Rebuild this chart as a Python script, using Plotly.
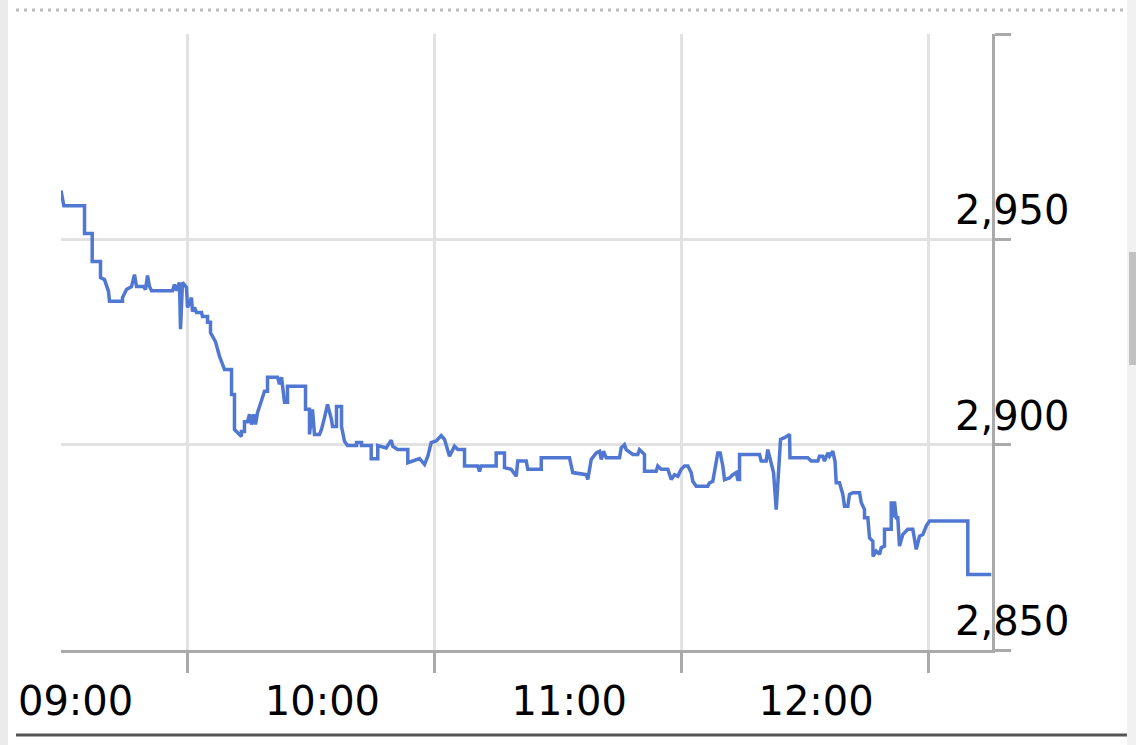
import plotly.graph_objects as go

# ---- data ----
times = [
    "08:59:08", "08:59:49", "09:04:51", "09:04:51", "09:06:43", "09:06:43", "09:08:44", "09:08:44",
    "09:09:42", "09:10:41", "09:10:55", "09:14:05", "09:14:05", "09:15:03", "09:16:16", "09:17:00",
    "09:17:29", "09:19:11", "09:19:40", "09:20:10", "09:20:39", "09:21:08", "09:26:14", "09:26:43",
    "09:27:12", "09:27:56", "09:28:11", "09:28:40", "09:29:38", "09:29:53", "09:30:51", "09:31:06",
    "09:31:35", "09:32:04", "09:33:17", "09:33:32", "09:34:45", "09:34:45", "09:35:28", "09:35:28",
    "09:36:41", "09:37:40", "09:38:53", "09:40:35", "09:40:35", "09:41:18", "09:41:18", "09:43:00",
    "09:43:00", "09:43:44", "09:43:44", "09:44:28", "09:44:57", "09:45:26", "09:45:56", "09:46:25",
    "09:46:54", "09:48:36", "09:49:20", "09:49:20", "09:51:46", "09:52:15", "09:52:44", "09:53:28",
    "09:54:11", "09:54:11", "09:58:34", "09:58:34", "09:59:32", "09:59:32", "10:00:16", "10:00:45",
    "10:01:58", "10:02:27", "10:03:11", "10:03:55", "10:04:53", "10:05:08", "10:06:06", "10:06:06",
    "10:07:19", "10:07:19", "10:08:03", "10:08:46", "10:10:58", "10:10:58", "10:12:11", "10:12:11",
    "10:14:32", "10:14:32", "10:16:08", "10:16:08", "10:18:11", "10:19:24", "10:19:47", "10:21:00",
    "10:23:26", "10:23:26", "10:26:17", "10:27:30", "10:28:18", "10:29:07", "10:30:20", "10:31:33",
    "10:32:21", "10:33:34", "10:34:47", "10:35:35", "10:37:13", "10:37:13", "10:40:27", "10:40:52",
    "10:41:16", "10:44:55", "10:44:55", "10:46:56", "10:46:56", "10:48:34", "10:49:47", "10:50:10",
    "10:52:13", "10:52:36", "10:55:52", "10:55:52", "11:02:44", "11:03:32", "11:06:48", "11:07:11",
    "11:08:01", "11:09:14", "11:10:02", "11:10:27", "11:11:00", "11:11:40", "11:14:54", "11:15:18",
    "11:16:06", "11:16:31", "11:18:08", "11:19:20", "11:19:45", "11:20:58", "11:20:58", "11:23:49",
    "11:24:12", "11:25:02", "11:26:38", "11:27:28", "11:28:16", "11:29:04", "11:29:53", "11:30:42",
    "11:31:30", "11:32:19", "11:32:43", "11:33:32", "11:36:21", "11:36:46", "11:37:34", "11:38:24",
    "11:38:47", "11:39:22", "11:40:00", "11:40:25", "11:41:38", "11:42:26", "11:43:16", "11:43:39",
    "11:44:04", "11:44:04", "11:48:55", "11:49:20", "11:50:33", "11:50:56", "11:51:46", "11:52:20",
    "11:52:59", "11:53:22", "11:53:47", "11:54:02", "11:55:00", "11:56:13", "11:56:20", "12:00:40",
    "12:01:29", "12:03:06", "12:03:30", "12:04:19", "12:04:43", "12:05:32", "12:05:56", "12:06:44",
    "12:07:17", "12:07:34", "12:08:22", "12:09:10", "12:09:35", "12:10:23", "12:10:48", "12:11:36",
    "12:13:14", "12:13:39", "12:14:27", "12:14:27", "12:15:15", "12:15:40", "12:16:28", "12:16:31",
    "12:17:17", "12:18:06", "12:18:30", "12:19:18", "12:19:18", "12:20:56", "12:20:56", "12:21:20",
    "12:21:44", "12:22:09", "12:22:32", "12:22:57", "12:23:45", "12:24:58", "12:26:11", "12:27:01",
    "12:27:49", "12:28:37", "12:29:27", "12:30:15", "12:39:33", "12:39:33", "12:45:15",
]
prices = [
    2961.9, 2958.2, 2958.2, 2951.4, 2951.4, 2944.6, 2944.6, 2940.7,
    2940.2, 2937.3, 2934.9, 2934.9, 2935.8, 2937.8, 2938.5, 2941.4,
    2938.5, 2938.5, 2937.8, 2941.2, 2938.5, 2937.5, 2937.5, 2939.0,
    2937.5, 2939.5, 2928.1, 2939.5, 2938.3, 2933.4, 2935.8, 2932.4,
    2933.4, 2932.2, 2932.2, 2931.2, 2931.2, 2929.8, 2929.8, 2927.3,
    2925.1, 2921.5, 2918.3, 2918.3, 2912.2, 2912.2, 2903.7, 2902.0,
    2903.2, 2903.2, 2905.6, 2905.6, 2907.4, 2904.9, 2907.4, 2904.9,
    2907.8, 2913.0, 2913.0, 2916.4, 2916.4, 2914.7, 2916.4, 2910.3,
    2910.3, 2914.2, 2914.2, 2908.6, 2908.6, 2902.5, 2908.6, 2902.5,
    2902.5, 2903.7, 2906.6, 2909.8, 2906.1, 2904.4, 2904.4, 2909.3,
    2909.3, 2904.4, 2900.8, 2899.8, 2899.8, 2900.5, 2900.5, 2899.8,
    2899.8, 2896.6, 2896.6, 2899.8, 2899.2, 2901.1, 2899.6, 2898.8,
    2898.8, 2895.6, 2896.6, 2895.2, 2897.2, 2900.5, 2900.9, 2902.2,
    2901.3, 2897.2, 2899.6, 2898.8, 2898.8, 2894.8, 2894.8, 2893.5,
    2894.8, 2894.8, 2898.0, 2898.0, 2894.4, 2894.0, 2892.3, 2896.0,
    2896.0, 2894.0, 2894.0, 2896.8, 2896.8, 2893.2, 2892.7, 2891.5,
    2896.4, 2898.0, 2898.4, 2896.4, 2898.4, 2896.8, 2896.8, 2899.2,
    2900.0, 2898.8, 2897.6, 2897.6, 2898.8, 2897.6, 2893.5, 2893.5,
    2894.8, 2894.0, 2894.0, 2891.5, 2892.7, 2892.3, 2894.0, 2894.8,
    2894.8, 2893.2, 2891.1, 2889.9, 2889.9, 2890.7, 2891.1, 2895.6,
    2898.0, 2898.0, 2894.8, 2891.5, 2891.9, 2892.7, 2893.2, 2891.5,
    2891.5, 2897.6, 2897.6, 2896.0, 2896.0, 2898.8, 2895.6, 2893.2,
    2884.2, 2890.7, 2896.4, 2901.3, 2901.7, 2902.5, 2896.8, 2896.8,
    2896.0, 2896.0, 2897.2, 2897.2, 2896.0, 2898.0, 2897.2, 2898.4,
    2895.9, 2890.7, 2890.7, 2887.9, 2885.0, 2885.0, 2887.9, 2888.3,
    2888.3, 2885.9, 2884.2, 2882.2, 2882.2, 2877.3, 2876.5, 2872.8,
    2874.1, 2873.3, 2874.9, 2875.3, 2879.4, 2879.4, 2886.2, 2882.3,
    2886.2, 2882.2, 2882.2, 2875.3, 2878.1, 2879.4, 2879.4, 2874.5,
    2877.7, 2878.1, 2880.2, 2881.4, 2881.4, 2868.4, 2868.4,
]

day = "2024-01-05 "
hour_ticks = ["09:00", "10:00", "11:00", "12:00"]
hour_labels = ["09:00", "10:00", "11:00", "12:00"]
half_hour_grid = ["09:30", "10:30", "11:30", "12:30"]
x_range = ["08:59:08", "12:45:26"]
price_ticks = [2850, 2900, 2950, 3000]
price_labels = ["2,850", "2,900", "2,950", ""]
y_range = [2850, 3000]

FONT = "Verdana, DejaVu Sans, sans-serif"
GRID = "#e2e2e2"
AXIS = "#aaaaaa"
LINE = "#5078d2"

fig = go.Figure()
fig.add_trace(go.Scatter(
    x=[day + t for t in times], y=prices, mode="lines",
    line=dict(color=LINE, width=3.5), hoverinfo="skip", showlegend=False,
))

fig.update_layout(
    width=1136, height=745,
    margin=dict(l=61, r=144, t=34, b=95, autoexpand=False),
    paper_bgcolor="white", plot_bgcolor="white",
    font=dict(family=FONT, size=40, color="#000000"),
    showlegend=False,
    xaxis=dict(
        type="date",
        range=[day + x_range[0], day + x_range[1]],
        tickmode="array",
        tickvals=[day + t for t in hour_ticks],
        ticktext=hour_labels,
        ticks="",
        showgrid=False,
        zeroline=False,
        showline=True, linecolor=AXIS, linewidth=3,
        ticklabelshift=11,
        ticklabelstandoff=14,
        automargin=False,
        tickfont=dict(family=FONT, size=40, color="#000000"),
        minor=dict(
            tickmode="array",
            tickvals=[day + t for t in half_hour_grid],
            ticks="outside", ticklen=20, tickwidth=3, tickcolor=AXIS,
            showgrid=True, gridcolor=GRID, gridwidth=3,
        ),
        fixedrange=True,
    ),
    yaxis=dict(
        side="right",
        range=y_range,
        tickmode="array",
        tickvals=price_ticks,
        ticktext=price_labels,
        ticks="outside", ticklen=16, tickwidth=3, tickcolor=AXIS,
        showgrid=True, gridcolor=GRID, gridwidth=3,
        zeroline=False,
        showline=True, linecolor=AXIS, linewidth=3,
        ticklabelshift=-29,
        ticklabelstandoff=-64,
        automargin=False,
        tickfont=dict(family=FONT, size=40, color="#000000"),
        fixedrange=True,
    ),
)

# page chrome around the chart (pixel offsets from the plot's bottom-left corner)
def px_shape(kind, x0, x1, y0, y1, **kw):
    return dict(type=kind, xref="paper", yref="paper", xsizemode="pixel", ysizemode="pixel",
                xanchor=0, yanchor=0, x0=x0, x1=x1, y0=y0, y1=y1, layer="above", **kw)

shapes = [
    px_shape("rect", -61, -53, -95, 650, fillcolor="#ebebeb", line=dict(width=0)),
    px_shape("rect", 1066, 1075, -95, 650, fillcolor="#f1f1f1", line=dict(width=0)),
    px_shape("rect", 1068, 1075, 285, 398, fillcolor="#c1c1c1", line=dict(width=0)),
    px_shape("line", -45, 1064, 640, 640, line=dict(color="#bbbbbb", width=3, dash="3px,5px")),
    px_shape("line", -45, 1066, -85, -85, line=dict(color="#555555", width=3)),
]
fig.update_layout(shapes=shapes)

fig.write_html(
    "out.html",
    config={"displayModeBar": False, "staticPlot": True},
    post_script="document.body.style.margin='0px';",
)
